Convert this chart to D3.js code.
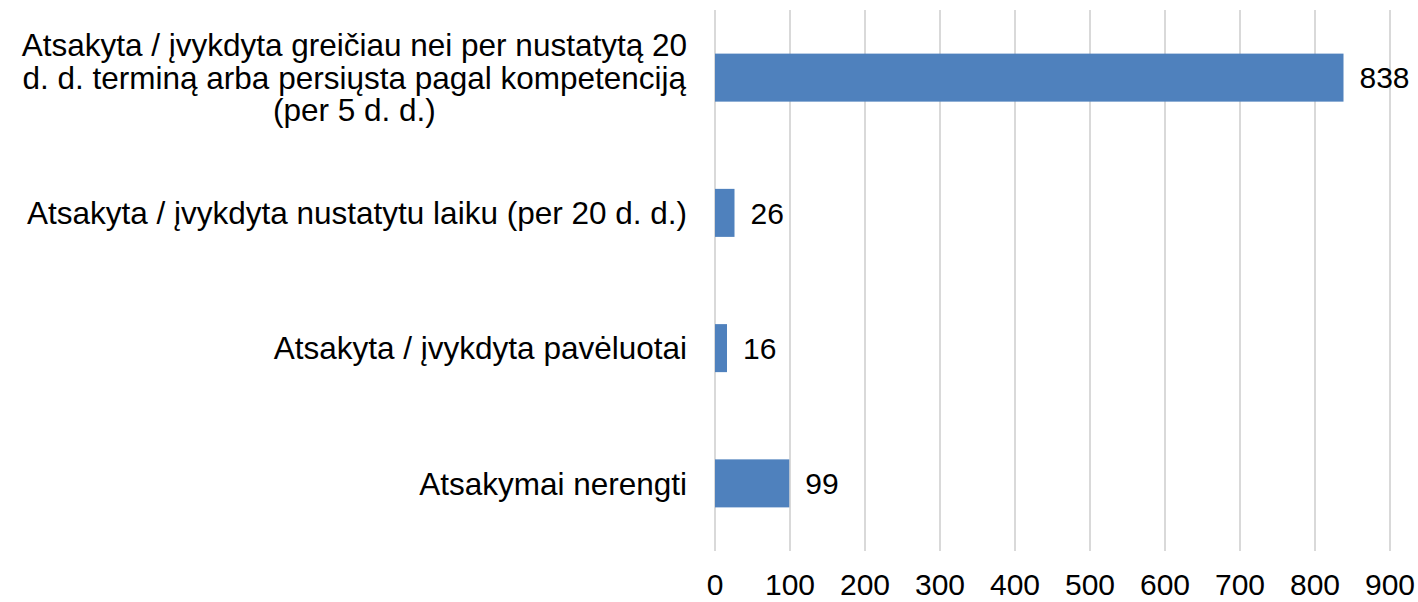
<!DOCTYPE html>
<html>
<head>
<meta charset="utf-8">
<script src="https://cdn.jsdelivr.net/npm/d3@7"></script>
<style>
  body { margin: 0; background: #fff; }
  text { font-family: "Liberation Sans", Arial, sans-serif; fill: #000; }
</style>
</head>
<body>
<script>
// chart values
var categories = [
  ["Atsakyta / įvykdyta greičiau nei per nustatytą 20", "d. d. terminą arba persiųsta pagal kompetenciją", "(per 5 d. d.)"],
  ["Atsakyta / įvykdyta nustatytu laiku (per 20 d. d.)"],
  ["Atsakyta / įvykdyta pavėluotai"],
  ["Atsakymai nerengti"]
];
var values = [838, 26, 16, 99];
var xTicks = [0, 100, 200, 300, 400, 500, 600, 700, 800, 900];

var width = 1418, height = 602;
var numSize = 30;
var catSize = 31.5;

var svg = d3.select('body').append('svg')
  .attr('width', width)
  .attr('height', height);

var x = d3.scaleLinear()
  .domain([0, 900])
  .range([715, 1390]);

var y = d3.scaleBand()
  .domain(d3.range(categories.length))
  .range([10, 551])
  .paddingInner(0.645)
  .paddingOuter(0.3225);

// gridlines
svg.append('g').selectAll('line')
  .data(xTicks)
  .enter().append('line')
  .attr('x1', d => x(d))
  .attr('x2', d => x(d))
  .attr('y1', 10)
  .attr('y2', 551)
  .attr('stroke', '#d9d9d9')
  .attr('stroke-width', 2);

// tick labels
svg.append('g').selectAll('text')
  .data(xTicks)
  .enter().append('text')
  .attr('x', d => x(d))
  .attr('y', 595)
  .attr('text-anchor', 'middle')
  .style('font-size', numSize + 'px')
  .text(d => d);

// bars
svg.append('g').selectAll('rect')
  .data(values)
  .enter().append('rect')
  .attr('x', x(0))
  .attr('y', (d, i) => y(i))
  .attr('width', d => x(d) - x(0))
  .attr('height', y.bandwidth())
  .attr('fill', '#4f81bd');

// value labels
svg.append('g').selectAll('text')
  .data(values)
  .enter().append('text')
  .attr('x', d => x(d) + 16)
  .attr('y', (d, i) => y(i) + y.bandwidth() / 2)
  .attr('dy', '0.36em')
  .style('font-size', numSize + 'px')
  .text(d => d);

// category labels, lines centred under the widest one, right edge at 687
var labelRight = 687;
var lineHeight = 32.5;
categories.forEach(function(lines, i) {
  var g = svg.append('g');
  var cy = y(i) + y.bandwidth() / 2;
  var texts = g.selectAll('text')
    .data(lines)
    .enter().append('text')
    .attr('y', (d, j) => cy + (j - (lines.length - 1) / 2) * lineHeight)
    .attr('dy', '0.36em')
    .attr('text-anchor', 'middle')
    .style('font-size', catSize + 'px')
    .text(d => d);
  var maxW = 0;
  texts.each(function() { maxW = Math.max(maxW, this.getComputedTextLength()); });
  texts.attr('x', labelRight - maxW / 2);
});
</script>
</body>
</html>
